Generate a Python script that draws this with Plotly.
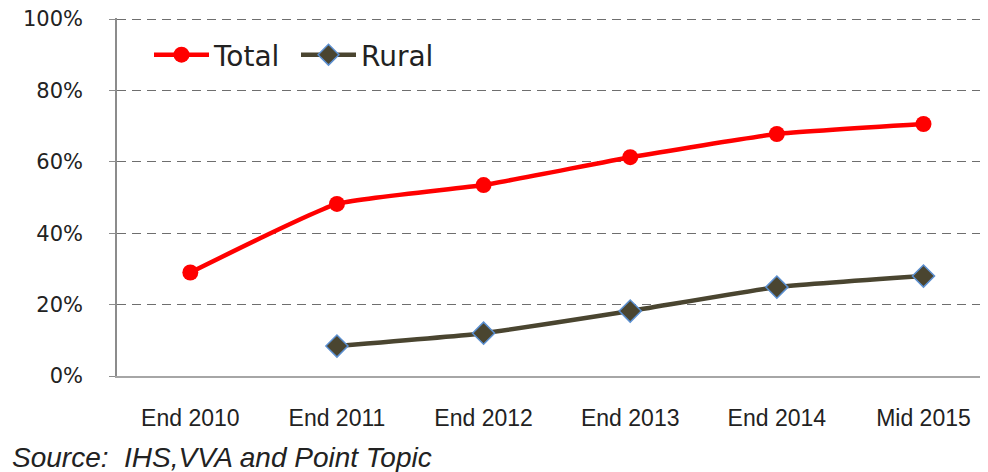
import plotly.graph_objects as go

categories = ["End 2010", "End 2011", "End 2012", "End 2013", "End 2014", "Mid 2015"]
total = [29, 48.2, 53.5, 61.3, 67.8, 70.6]
rural = [None, 8.4, 12.0, 18.2, 24.9, 28.0]
y_ticks = [0, 20, 40, 60, 80, 100]
y_labels = ["0%", "20%", "40%", "60%", "80%", "100%"]

# figure placed at page offset (8, 8) by the default body margin
W, H = 980, 464
L, T, B = 109, 10, 96
PW, PH = W - L, H - T - B

fig = go.Figure()
fig.add_trace(go.Scatter(
    x=categories, y=total, name="Total", mode="lines+markers",
    line=dict(color="#ff0000", width=4.5, shape="spline", smoothing=0.4),
    marker=dict(symbol="circle", size=16, color="#ff0000"),
))
fig.add_trace(go.Scatter(
    x=categories, y=rural, name="Rural", mode="lines+markers",
    line=dict(color="#4a4530", width=4.5, shape="spline", smoothing=0.4),
    marker=dict(symbol="diamond", size=17, color="#4a4530",
                line=dict(color="#5b8fd0", width=1.5)),
))

fig.update_layout(
    width=W, height=H,
    margin=dict(l=L, r=0, t=T, b=B),
    paper_bgcolor="white", plot_bgcolor="white",
    showlegend=True,
    legend=dict(orientation="h", x=(141 - L) / PW, y=1 - (47 - T) / PH,
                xanchor="left", yanchor="middle",
                font=dict(family="DejaVu Sans", size=28, color="#222"),
                itemwidth=55, entrywidth=77, entrywidthmode="pixels",
                bgcolor="rgba(0,0,0,0)", tracegroupgap=0),
    xaxis=dict(
        type="category", range=[-0.5, 5.44],
        showline=True, linecolor="#a6a6a6", linewidth=2,
        ticks="", showgrid=False,
        tickfont=dict(family="Liberation Sans", size=23, color="#222"),
        ticklabelstandoff=20,
    ),
    yaxis=dict(
        range=[0, 100.3], tickvals=y_ticks, ticktext=y_labels,
        showline=True, linecolor="#8c8c8c", linewidth=1.5,
        ticks="outside", ticklen=6, tickcolor="#8c8c8c",
        showgrid=True, gridcolor="#6e6e6e", griddash="9px,6px", gridwidth=1.3,
        zeroline=False, ticklabeloverflow="allow",
        tickfont=dict(family="DejaVu Sans", size=21, color="#222"),
        ticklabelstandoff=22,
    ),
    annotations=[dict(
        text="<i>Source:  IHS,VVA and Point Topic</i>", xref="paper", yref="paper",
        x=(2 - L) / PW, y=(T + PH - 449) / PH, xanchor="left", yanchor="middle",
        showarrow=False,
        font=dict(family="Liberation Sans", size=28, color="#222"),
    )],
)

fig.write_html("out.html")
